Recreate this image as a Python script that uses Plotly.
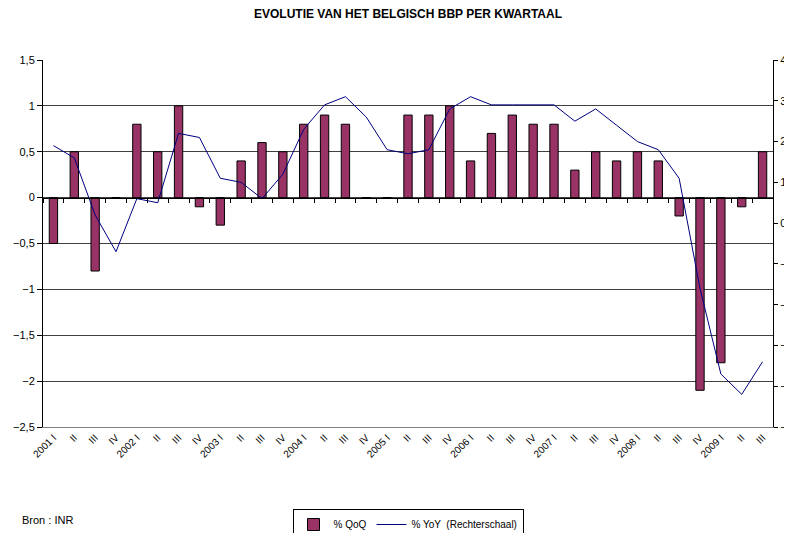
import plotly.graph_objects as go

years = ["2001", "2002", "2003", "2004", "2005", "2006", "2007", "2008", "2009"]
quarters = ["I", "II", "III", "IV"]
labels = []
for y in years:
    for q in quarters:
        labels.append(f"{y} {q}" if q == "I" else q)
labels = labels[:35]

qoq = [-0.5, 0.5, -0.8, 0.0,
       0.8, 0.5, 1.0, -0.1,
       -0.3, 0.4, 0.6, 0.5,
       0.8, 0.9, 0.8, 0.0,
       0.0, 0.9, 0.9, 1.0,
       0.4, 0.7, 0.9, 0.8,
       0.8, 0.3, 0.5, 0.4,
       0.5, 0.4, -0.2, -2.1,
       -1.8, -0.1, 0.5]

yoy = [1.9, 1.6, 0.2, -0.7,
       0.6, 0.5, 2.2, 2.1,
       1.1, 1.0, 0.6, 1.2,
       2.3, 2.9, 3.1, 2.6,
       1.8, 1.7, 1.8, 2.8,
       3.1, 2.9, 2.9, 2.9,
       2.9, 2.5, 2.8, 2.4,
       2.0, 1.8, 1.1, -1.6,
       -3.7, -4.2, -3.4]

idx = list(range(len(labels)))
FONT = "Liberation Sans, Arial, sans-serif"

fig = go.Figure()
fig.add_trace(go.Bar(
    x=idx, y=qoq, name="% QoQ", width=0.4,
    marker=dict(color="#993366", line=dict(color="#000000", width=1)),
))
fig.add_trace(go.Scatter(
    x=idx, y=yoy, name="% YoY  (Rechterschaal)", yaxis="y2", mode="lines",
    line=dict(color="#000080", width=1),
))
# helper trace for the tick marks along the zero line
fig.add_trace(go.Scatter(
    x=[0], y=[0], xaxis="x2", mode="markers", marker=dict(opacity=0),
    showlegend=False, hoverinfo="skip",
))

fig.update_layout(
    width=784, height=525,
    margin=dict(l=35, r=19, t=52, b=106, autoexpand=False),
    paper_bgcolor="white", plot_bgcolor="white",
    separators=",.",
    font=dict(family=FONT, size=11, color="#000000"),
    title=dict(text="<b>EVOLUTIE VAN HET BELGISCH BBP PER KWARTAAL</b>",
               x=0.5, xref="paper", xanchor="center", y=1 - 6 / 525, yanchor="middle",
               font=dict(family=FONT, size=12, color="#000000")),
    showlegend=True,
    legend=dict(orientation="h", x=0.5, xanchor="center", y=-82 / 367, yanchor="top",
                bordercolor="#000000", borderwidth=1, bgcolor="white",
                font=dict(family=FONT, size=10), traceorder="normal"),
    bargap=0.6,
    xaxis=dict(
        range=[-0.5, 34.5], tickmode="array", tickvals=idx, ticktext=labels,
        tickangle=-45, ticks="", showgrid=False, zeroline=False, automargin=False,
        showline=True, linecolor="#808080", linewidth=1,
        tickfont=dict(family=FONT, size=10),
    ),
    xaxis2=dict(
        overlaying="x", anchor="free", position=0.625, range=[-0.5, 34.5],
        tickmode="array", tickvals=[i - 0.5 for i in idx] + [34.5], automargin=False,
        ticks="outside", ticklen=4, tickcolor="#000000", showticklabels=False,
        showgrid=False, zeroline=False, showline=True, linecolor="#000000", linewidth=1,
    ),
    yaxis=dict(
        range=[-2.5, 1.5], dtick=0.5, tick0=0, showgrid=True, gridcolor="#404040",
        gridwidth=1, zeroline=False, showline=True, linecolor="#000000", linewidth=1,
        ticks="outside", ticklen=5, tickcolor="#000000", automargin=False,
    ),
    yaxis2=dict(
        range=[-5, 4], dtick=1, overlaying="y", side="right", showgrid=False,
        zeroline=False, showline=True, linecolor="#000000", linewidth=1,
        ticks="outside", ticklen=4, tickcolor="#000000", automargin=False,
    ),
    annotations=[dict(text="Bron : INR", xref="paper", yref="paper",
                      x=-23 / 730, y=-93 / 367, xanchor="left", yanchor="middle",
                      showarrow=False, font=dict(family=FONT, size=11))],
)

fig.write_html("out.html")
